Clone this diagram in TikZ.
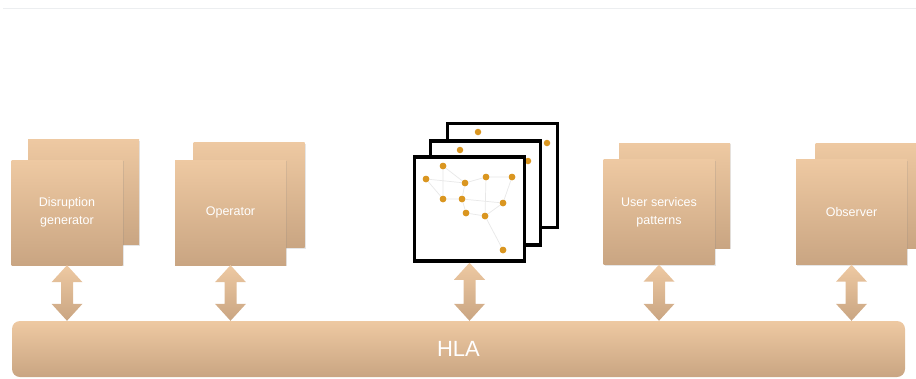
\documentclass[tikz,border=0pt]{standalone}
\usepackage{fontspec}
\setmainfont{Liberation Sans}
\usetikzlibrary{calc,shadows}
\definecolor{cardtop}{RGB}{238,201,162}
\definecolor{cardbot}{RGB}{201,165,130}
\definecolor{dotc}{RGB}{218,150,32}
\definecolor{edgec}{RGB}{232,232,232}
\begin{document}
\begin{tikzpicture}[x=1pt,y=-1pt,
  card/.style={top color=cardtop,bottom color=cardbot,draw=none,
    minimum width=111pt,minimum height=105pt,inner sep=0pt,align=center,
    text=white,font=\fontsize{12.5}{18}\selectfont,
    drop shadow={opacity=0.2,shadow xshift=1pt,shadow yshift=-1pt}},
  frame/.style={draw=black,line width=3.5pt,fill=white,minimum width=110pt,minimum height=104pt,inner sep=0pt,
    drop shadow={opacity=0.25,shadow xshift=1.5pt,shadow yshift=-1.5pt}},
  bigarrow/.style={top color=cardtop,bottom color=cardbot,draw=none},
  dot/.style={circle,fill=dotc,inner sep=0pt,minimum size=6.5pt},
  edge/.style={draw=edgec,line width=0.7pt}]
\useasboundingbox (0,0) rectangle (916,378);
\draw[line width=0.8pt,draw={rgb,255:red,236;green,238;blue,240}] (3,8) -- (916,8);

% cards
\node[card] (d1b) at (83.5,192) {};
\node[card] (d1) at (67,212.5) {Disruption\\generator};
\node[card] (d2b) at (249,195) {};
\node[card] (d2) at (230.5,212.5) {Operator};
\node[card] (d4b) at (674.5,195.5) {};
\node[card] (d4) at (659,212) {User services\\patterns};
\node[card] (d5b) at (871,195.5) {};
\node[card] (d5) at (851.5,212) {Observer};

% network frames
\node[frame] (f3) at (502.5,175.5) {};
\node[dot] (b1) at (478,132) {};
\node[dot] (b2) at (547,143) {};
\node[frame] (f2) at (485.5,193) {};
\node[dot] (m1) at (460,150) {};
\node[dot] (m2) at (528,161) {};
\node[frame] (f1) at (469.5,209) {};
\node[dot] (n1) at (426,179) {};
\node[dot] (n2) at (443,166) {};
\node[dot] (n3) at (465,183) {};
\node[dot] (n4) at (486,177) {};
\node[dot] (n5) at (512,177) {};
\node[dot] (n6) at (443,199) {};
\node[dot] (n7) at (462,199) {};
\node[dot] (n8) at (466,213) {};
\node[dot] (n9) at (485,216) {};
\node[dot] (n10) at (503,203) {};
\node[dot] (n11) at (503,250) {};
\path[edge] (n2) -- (n3) (n1) -- (n3) (n2) -- (n6) (n3) -- (n4) (n4) -- (n5)
  (n3) -- (n7) (n6) -- (n7) (n7) -- (n10) (n7) -- (n8) (n8) -- (n9)
  (n4) -- (n9) (n9) -- (n11) (n5) -- (n10) (n9) -- (n10) (n1) -- (n6);
\foreach \n in {n1,n2,n3,n4,n5,n6,n7,n8,n9,n10,n11} \node[dot] at (\n) {};

% HLA bar
\node[top color=cardtop,bottom color=cardbot,rounded corners=8pt,minimum width=893pt,minimum height=56pt,
  text=white,font=\fontsize{22}{26}\selectfont,inner sep=0pt] (hla) at (458.5,349) {HLA};

% double arrows
\foreach \b/\t in {d1/t1,d2/t2,f1/t3,d4/t4,d5/t5}{
  \coordinate (\t) at ($(\b.south)+(0,\ifx\b f1 3\else 0\fi)$);
}
\foreach \t in {t1,t2,t3,t4,t5}{
  \path[bigarrow] (\t) -- ++(15.5,17) -- ++(-9.5,0) -- ($(\t |- hla.north)+(6,-17)$) -- ++(9.5,0)
    -- (\t |- hla.north) -- ++(-15.5,-17) -- ++(9.5,0) -- ($(\t)+(-6,17)$) -- ++(-9.5,0) -- cycle;
}
\end{tikzpicture}
\end{document}
